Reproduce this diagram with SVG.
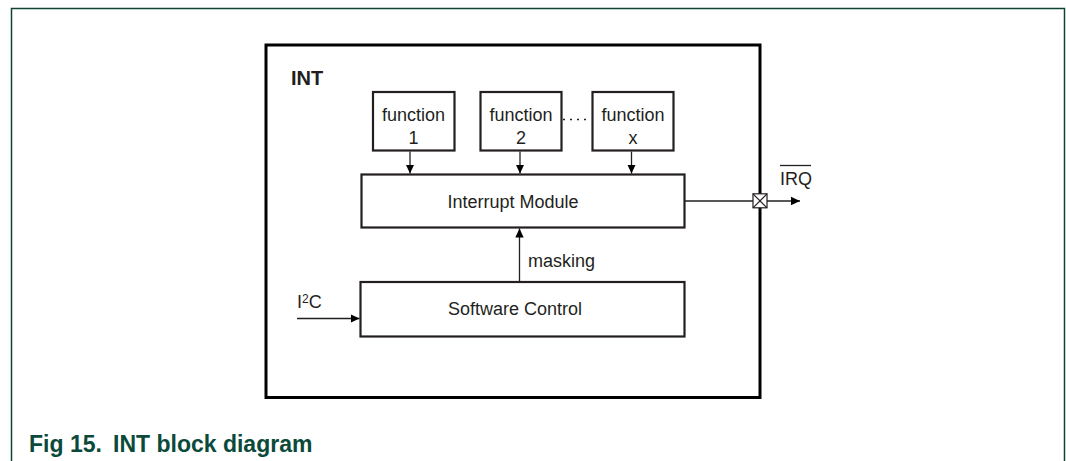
<svg xmlns="http://www.w3.org/2000/svg" width="1066" height="461" viewBox="0 0 1066 461">
<defs>
<style>
.t{font-family:"Liberation Sans",Arial,sans-serif;font-size:18px;fill:#231f20}
.b{fill:#fff;stroke:#231f20;stroke-width:2.2}
.c{fill:none;stroke:#231f20;stroke-width:1.3}
</style>
<marker id="ah" markerUnits="userSpaceOnUse" markerWidth="10" markerHeight="10" refX="9" refY="5" orient="auto">
<path d="M0,0.8 L9,5 L0,9.2 Z" fill="#000"/>
</marker>
</defs>
<rect width="1066" height="461" fill="#fff"/>
<path d="M11.5,461 V8.5 H1064.5 V461" fill="none" stroke="#0d4433" stroke-width="1.5"/>
<g id="int">
<rect x="266" y="45" width="494" height="352.5" fill="none" stroke="#000" stroke-width="3"/>
<text x="291" y="85" style="font-family:'Liberation Sans',Arial,sans-serif;font-size:20px;font-weight:bold;fill:#231f20">INT</text>
</g>
<g id="f1"><rect class="b" x="373" y="92" width="81.5" height="58.5"/><text class="t" x="413.5" y="121" text-anchor="middle">function</text><text class="t" x="413.5" y="143.5" text-anchor="middle">1</text></g>
<g id="f2"><rect class="b" x="480.5" y="92" width="81" height="58.5"/><text class="t" x="521" y="121" text-anchor="middle">function</text><text class="t" x="521" y="143.5" text-anchor="middle">2</text></g>
<g id="fx"><rect class="b" x="592.5" y="92" width="81" height="58.5"/><text class="t" x="633" y="121" text-anchor="middle">function</text><text class="t" x="633" y="143.5" text-anchor="middle">x</text></g>
<g id="im"><rect class="b" x="361.5" y="174.5" width="323" height="53"/><text class="t" x="513" y="208" text-anchor="middle">Interrupt Module</text></g>
<g id="sc"><rect class="b" x="360.5" y="282" width="324" height="54.5"/><text class="t" x="515" y="315" text-anchor="middle">Software Control</text></g>
<g id="connectors">
<line x1="563" y1="119.5" x2="591" y2="119.5" stroke="#231f20" stroke-width="1.3" stroke-dasharray="2,5"/>
<line class="c" x1="410" y1="151.5" x2="410" y2="173.5" marker-end="url(#ah)"/>
<line class="c" x1="520" y1="151.5" x2="520" y2="173.5" marker-end="url(#ah)"/>
<line class="c" x1="631.5" y1="151.5" x2="631.5" y2="173.5" marker-end="url(#ah)"/>
<line class="c" x1="519.5" y1="281" x2="519.5" y2="228.5" marker-end="url(#ah)"/>
<line class="c" x1="297" y1="318.5" x2="359.5" y2="318.5" marker-end="url(#ah)"/>
<line class="c" x1="685" y1="201" x2="800" y2="201" marker-end="url(#ah)"/>
<g fill="#fff" stroke="#231f20" stroke-width="1.2">
<rect x="753" y="193.8" width="14" height="14"/>
<path d="M753,193.8 L767,207.8 M767,193.8 L753,207.8" fill="none"/>
</g>
<text class="t" x="528" y="267">masking</text>
<text class="t" x="297" y="308">I<tspan font-size="12" dy="-5">2</tspan><tspan dy="5">C</tspan></text>
<text class="t" x="780" y="185">IRQ</text>
<line x1="780" y1="165.5" x2="811" y2="165.5" stroke="#231f20" stroke-width="1.3"/>
</g>
<g id="caption" style="font-family:'Liberation Sans',Arial,sans-serif;font-size:23px;font-weight:bold;fill:#0b4a3a">
<text x="29" y="452">Fig 15.</text>
<text x="113" y="452">INT block diagram</text>
</g>
</svg>
